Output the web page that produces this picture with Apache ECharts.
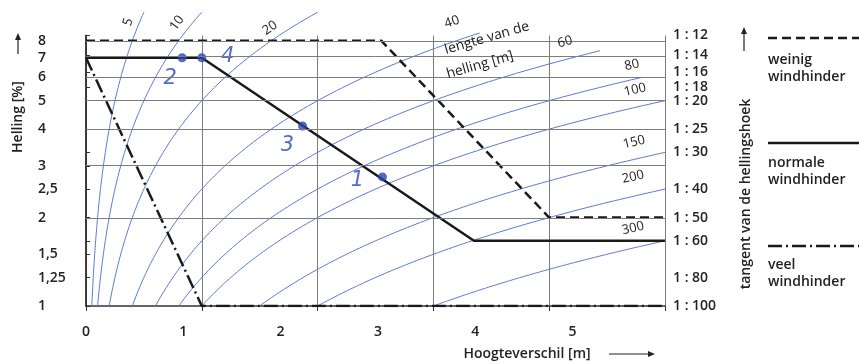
<!DOCTYPE html>
<html><head><meta charset="utf-8">
<script src="https://cdn.jsdelivr.net/npm/echarts@6/dist/echarts.min.js"></script>
<style>html,body{margin:0;padding:0;background:#fff}#c{width:859px;height:363px}</style>
</head><body><div id="c"></div>
<script>
// ---- data ----
const hellingTicks = [1, 1.25, 1.5, 2, 2.5, 3, 4, 5, 6, 7, 8];       // left axis labels (%)
const hellingGrid = [2, 3, 4, 5, 6, 7, 8];                           // horizontal grid lines (%)
const ratioTicks = [12, 14, 16, 18, 20, 25, 30, 40, 50, 60, 80, 100]; // right axis 1 : n
const hoogteLabels = [0, 1, 2, 3, 4, 5];                             // bottom axis labels
const lengtes = [5, 10, 20, 40, 60, 80, 100, 150, 200, 300];         // lengte van de helling (m)
const lengteTop = [10, 10, 10, 8.5, 7.4, 6.0, 5, 3.333, 2.5, 1.667]; // highest slope (%) each curve is drawn to
const weinigX = [0, 2.55, 4.0, 5.0];   const weinigY = [8, 8, 2, 2];
const normaleX = [0, 1.0, 3.35, 5.0];  const normaleY = [7, 7, 1.667, 1.667];
const veelX = [0, 1.0, 5.0];           const veelY = [7, 1, 1];
const puntNamen = ['1', '2', '3', '4'];
const puntX = [2.56, 0.83, 1.87, 1.0];
const puntY = [2.75, 7, 4.1, 7];

// ---- layout / style ----
const FONT = '"Open Sans", "Liberation Sans", sans-serif';
const TXT = '#222';
const L10 = Math.log10;
const yMax = L10(100 / 12);
const curveLabelAt = [[0.363, 9.26], [0.786, 9.19], [1.589, 8.84], [3.16, 9.26], [4.136, 7.92],
                      [4.715, 6.61], [4.741, 5.44], [4.732, 3.61], [4.724, 2.75], [4.724, 1.84]];
const puntLabelOffset = [[-25, 4], [-12, 21], [-15, 20], [26, -1]];

function curvePoints(L, top) {
  const pts = [], n = 90, lt = L10(top);
  for (let i = 0; i <= n; i++) {
    const v = lt * i / n;
    pts.push([L * Math.pow(10, v) / 100, v]);
  }
  return pts;
}
function pairs(xs, ys) { return xs.map((x, i) => [x, L10(ys[i])]); }

const chart = echarts.init(document.getElementById('c'));
const axisLineStyle = { color: '#333', width: 1.5 };
const labelFont = { fontSize: 14, color: TXT, fontFamily: FONT, fontWeight: 600 };

const series = [];
series.push({
  type: 'line', data: [], silent: true, z: 1,
  markLine: { silent: true, symbol: ['none', 'none'], label: { show: false }, animation: false,
    lineStyle: { color: '#7d7d7d', width: 1, type: 'solid' },
    data: hellingGrid.map(v => ({ yAxis: L10(v) })) }
});
lengtes.forEach((L, i) => series.push({
  type: 'line', name: 'L' + L, data: curvePoints(L, lengteTop[i]), showSymbol: false, symbol: 'none',
  clip: false, silent: true, z: 2, lineStyle: { color: '#5a7ad6', width: 1 }
}));
series.push({ type: 'line', name: 'weinig windhinder', data: pairs(weinigX, weinigY), symbol: 'none', z: 3,
  lineStyle: { color: '#1a1a1a', width: 2.5, type: [9, 5] } });
series.push({ type: 'line', name: 'normale windhinder', data: pairs(normaleX, normaleY), symbol: 'none', z: 3,
  lineStyle: { color: '#1a1a1a', width: 2.5 } });
series.push({ type: 'line', name: 'veel windhinder', data: pairs(veelX, veelY), symbol: 'none', z: 3,
  lineStyle: { color: '#1a1a1a', width: 2.5, type: [14, 4, 2, 4] } });
series.push({ type: 'scatter', name: 'punten', z: 4, symbolSize: 9, itemStyle: { color: '#2846b0' },
  data: puntX.map((x, i) => ({ value: [x, L10(puntY[i])],
    label: { show: true, position: 'inside', offset: puntLabelOffset[i], formatter: puntNamen[i],
      fontSize: 21, fontStyle: 'italic', fontFamily: '"DejaVu Sans", sans-serif', color: '#2a48b8' } })) });

chart.setOption({
  animation: false,
  grid: { left: 86, top: 35.5, width: 579, height: 270.5 },
  xAxis: [
    { type: 'value', min: 0, max: 5, interval: 1, axisLine: { lineStyle: axisLineStyle },
      axisTick: { show: true, length: 5, lineStyle: { color: '#333' } }, axisLabel: { show: false },
      splitLine: { show: true, lineStyle: { color: '#7d7d7d', width: 1 } } },
    { type: 'value', min: 0, max: 5.95, position: 'bottom', axisLine: { show: false }, axisTick: { show: false },
      splitLine: { show: false }, axisLabel: Object.assign({ customValues: hoogteLabels, margin: 19 }, labelFont) }
  ],
  yAxis: [
    { type: 'value', min: 0, max: yMax, position: 'left', axisLine: { show: true, lineStyle: axisLineStyle },
      axisTick: { show: true, inside: true, length: 4, customValues: hellingTicks.map(L10), lineStyle: { color: '#333' } },
      axisLabel: Object.assign({ customValues: hellingTicks.map(L10), align: 'left', margin: 48,
        formatter: v => String(Math.round(Math.pow(10, v) * 100) / 100).replace('.', ',') }, labelFont),
      splitLine: { show: false } },
    { type: 'value', min: 0, max: yMax, position: 'right', axisLine: { show: true, lineStyle: axisLineStyle },
      axisTick: { show: true, length: 4, customValues: ratioTicks.map(n => L10(100 / n)), lineStyle: { color: '#333' } },
      axisLabel: Object.assign({ customValues: ratioTicks.map(n => L10(100 / n)), margin: 8,
        formatter: v => '1 : ' + Math.round(100 / Math.pow(10, v)) }, labelFont),
      splitLine: { show: false } }
  ],
  series: series
});

// ---- texts and legend ----
const g = [];
function txt(text, x, y, opt) {
  opt = opt || {};
  g.push({ type: 'text', x: x, y: y, rotation: opt.rot || 0, z: 10,
    style: { text: text, fill: opt.fill || TXT, font: (opt.weight || '600') + ' ' + (opt.size || 14) + 'px ' + FONT,
      align: opt.align || 'center', verticalAlign: 'middle' } });
}
function arrow(x1, y1, x2, y2) {
  const a = Math.atan2(y2 - y1, x2 - x1), hl = 7, hw = 3;
  const bx = x2 - hl * Math.cos(a), by = y2 - hl * Math.sin(a);
  g.push({ type: 'line', z: 10, shape: { x1: x1, y1: y1, x2: bx, y2: by }, style: { stroke: '#222', lineWidth: 1.2 } });
  g.push({ type: 'polygon', z: 10, shape: { points: [[x2, y2], [bx - hw * Math.sin(a), by + hw * Math.cos(a)], [bx + hw * Math.sin(a), by - hw * Math.cos(a)]] },
    style: { fill: '#222' } });
}
// axis titles
txt('Helling [%]', 18, 117, { rot: Math.PI / 2 });
arrow(18, 54, 18, 33);
txt('tangent van de hellingshoek', 746, 194, { rot: Math.PI / 2 });
arrow(744, 51, 744, 27);
txt('Hoogteverschil [m]', 527, 354);
arrow(609, 354, 655, 354);
txt('lengte van de', 487, 38, { rot: 16 * Math.PI / 180, size: 14, weight: '500' });
txt('helling [m]', 480, 65, { rot: 16 * Math.PI / 180, size: 14, weight: '500' });
// curve labels
lengtes.forEach((L, i) => {
  const [lx, lp] = curveLabelAt[i];
  const p = chart.convertToPixel({ xAxisIndex: 0, yAxisIndex: 0 }, [lx, L10(lp)]);
  const s1 = 100 * lx / L, s2 = 100 * lx * 1.02 / L;
  const q1 = chart.convertToPixel({ xAxisIndex: 0, yAxisIndex: 0 }, [lx, L10(s1)]);
  const q2 = chart.convertToPixel({ xAxisIndex: 0, yAxisIndex: 0 }, [lx * 1.02, L10(s2)]);
  const ang = Math.atan2(q1[1] - q2[1], q2[0] - q1[0]);
  txt(String(L), p[0], p[1], { rot: ang, size: 13, weight: '500' });
});
// legend
const LX1 = 768, LX2 = 859;
g.push({ type: 'line', z: 10, shape: { x1: LX1, y1: 38, x2: LX2, y2: 38 }, style: { stroke: '#1a1a1a', lineWidth: 2.5, lineDash: [9, 5] } });
txt('weinig', LX1, 60, { align: 'left' });
txt('windhinder', LX1, 77, { align: 'left' });
g.push({ type: 'line', z: 10, shape: { x1: LX1, y1: 143, x2: LX2, y2: 143 }, style: { stroke: '#1a1a1a', lineWidth: 2.5 } });
txt('normale', LX1, 163, { align: 'left' });
txt('windhinder', LX1, 180, { align: 'left' });
g.push({ type: 'line', z: 10, shape: { x1: LX1, y1: 246, x2: LX2, y2: 246 }, style: { stroke: '#1a1a1a', lineWidth: 2.5, lineDash: [14, 4, 2, 4] } });
txt('veel', LX1, 265, { align: 'left' });
txt('windhinder', LX1, 282, { align: 'left' });
chart.setOption({ graphic: { elements: g } });
</script></body></html>
